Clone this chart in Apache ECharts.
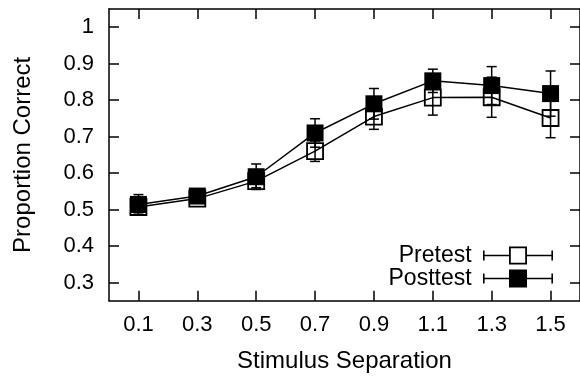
<!DOCTYPE html>
<html>
<head>
<meta charset="utf-8">
<script src="https://cdn.jsdelivr.net/npm/echarts@6/dist/echarts.min.js"></script>
<style>
html,body{margin:0;padding:0;background:#fff;}
#chart{width:580px;height:381px;}
</style>
</head>
<body>
<div id="chart"></div>
<script>
// ---- data ----
const categories = ['0.1', '0.3', '0.5', '0.7', '0.9', '1.1', '1.3', '1.5'];
const pretest = [0.507, 0.530, 0.578, 0.660, 0.755, 0.807, 0.808, 0.751];
const pretestErr = [0.015, 0.012, 0.018, 0.028, 0.035, 0.048, 0.055, 0.054];
const posttest = [0.514, 0.537, 0.590, 0.710, 0.790, 0.853, 0.840, 0.818];
const posttestErr = [0.027, 0.015, 0.035, 0.039, 0.042, 0.032, 0.052, 0.062];
const yTicks = [0.3, 0.4, 0.5, 0.6, 0.7, 0.8, 0.9, 1];
const seriesNames = ['Pretest', 'Posttest'];

const FONT = 'Liberation Sans, Arial, Helvetica, sans-serif';

function errData(vals, errs) {
  return vals.map((v, i) => [i, v - errs[i], v + errs[i]]);
}

function renderErr(params, api) {
  const lo = api.coord([api.value(0), api.value(1)]);
  const hi = api.coord([api.value(0), api.value(2)]);
  const hw = 5;
  const st = { stroke: '#000', lineWidth: 1.5 };
  return {
    type: 'group',
    children: [
      { type: 'line', shape: { x1: lo[0], y1: lo[1], x2: hi[0], y2: hi[1] }, style: st },
      { type: 'line', shape: { x1: lo[0] - hw, y1: lo[1], x2: lo[0] + hw, y2: lo[1] }, style: st },
      { type: 'line', shape: { x1: hi[0] - hw, y1: hi[1], x2: hi[0] + hw, y2: hi[1] }, style: st }
    ]
  };
}

// legend icons: error bar with square (70 x 18 box)
const bar = 'M0,8.2 L26,8.2 L26,9.8 L0,9.8 Z M44,8.2 L70,8.2 L70,9.8 L44,9.8 Z ' +
            'M0,4 L1.6,4 L1.6,14 L0,14 Z M68.4,4 L70,4 L70,14 L68.4,14 Z ';
const openIcon = 'path://' + bar + 'M26,0 L44,0 L44,18 L26,18 Z M27.8,1.8 L27.8,16.2 L42.2,16.2 L42.2,1.8 Z';
const fillIcon = 'path://' + bar + 'M26,8.2 L44,8.2 L44,9.8 L26,9.8 Z M26,0 L44,0 L44,18 L26,18 Z';

const chart = echarts.init(document.getElementById('chart'), null, { renderer: 'canvas' });

const axisLineStyle = { color: '#000', width: 1.5 };

chart.setOption({
  animation: false,
  backgroundColor: '#fff',
  textStyle: { fontFamily: FONT, color: '#000' },
  grid: { left: 109, right: -2, top: 9, bottom: 80.3, containLabel: false },
  legend: {
    orient: 'vertical',
    align: 'right',
    right: 27,
    top: 244,
    padding: 0,
    itemGap: 0,
    itemWidth: 70,
    itemHeight: 18,
    selectedMode: false,
    formatter: name => name + ' ',
    textStyle: { fontFamily: FONT, fontSize: 23, color: '#000' },
    data: [
      { name: seriesNames[0], icon: openIcon, itemStyle: { color: '#000', borderWidth: 0 } },
      { name: seriesNames[1], icon: fillIcon, itemStyle: { color: '#000', borderWidth: 0 } }
    ]
  },
  xAxis: [
    {
      type: 'category',
      data: categories,
      boundaryGap: true,
      position: 'bottom',
      axisLine: { show: true, onZero: false, lineStyle: axisLineStyle },
      axisTick: { show: true, inside: true, length: 10, alignWithLabel: true, lineStyle: axisLineStyle },
      axisLabel: { fontFamily: FONT, fontSize: 22, color: '#000', margin: 13 },
      name: 'Stimulus Separation',
      nameLocation: 'middle',
      nameGap: 49,
      nameTextStyle: { fontFamily: FONT, fontSize: 24, color: '#000' },
      splitLine: { show: false }
    },
    {
      type: 'category',
      data: categories,
      boundaryGap: true,
      position: 'top',
      axisLine: { show: true, onZero: false, lineStyle: axisLineStyle },
      axisTick: { show: true, inside: true, length: 10, alignWithLabel: true, lineStyle: axisLineStyle },
      axisLabel: { show: false },
      splitLine: { show: false }
    }
  ],
  yAxis: [
    {
      type: 'value',
      min: 0.25,
      max: 1.05,
      position: 'left',
      axisLine: { show: true, onZero: false, lineStyle: axisLineStyle },
      axisTick: { show: true, inside: true, length: 10, customValues: yTicks, lineStyle: axisLineStyle },
      axisLabel: { fontFamily: FONT, fontSize: 22, color: '#000', margin: 15, customValues: yTicks,
                   formatter: v => String(Math.round(v * 10) / 10) },
      splitLine: { show: false },
      name: 'Proportion Correct',
      nameLocation: 'middle',
      nameGap: 74,
      nameTextStyle: { fontFamily: FONT, fontSize: 24, color: '#000' }
    },
    {
      type: 'value',
      min: 0.25,
      max: 1.05,
      position: 'right',
      axisLine: { show: true, onZero: false, lineStyle: axisLineStyle },
      axisTick: { show: true, inside: true, length: 10, customValues: yTicks, lineStyle: axisLineStyle },
      axisLabel: { show: false, customValues: yTicks },
      splitLine: { show: false }
    }
  ],
  series: [
    {
      name: seriesNames[0],
      type: 'line',
      data: pretest,
      symbol: 'rect',
      symbolSize: 16,
      showAllSymbol: true,
      z: 2,
      lineStyle: { color: '#000', width: 1.5 },
      itemStyle: { color: 'rgba(0,0,0,0)', borderColor: '#000', borderWidth: 1.8 }
    },
    {
      name: seriesNames[0] + ' error',
      type: 'custom',
      data: errData(pretest, pretestErr),
      renderItem: renderErr,
      encode: { x: 0, y: [1, 2] },
      z: 3
    },
    {
      name: seriesNames[1],
      type: 'line',
      data: posttest,
      symbol: 'rect',
      symbolSize: 17,
      showAllSymbol: true,
      z: 4,
      lineStyle: { color: '#000', width: 1.5 },
      itemStyle: { color: '#000', borderWidth: 0 }
    },
    {
      name: seriesNames[1] + ' error',
      type: 'custom',
      data: errData(posttest, posttestErr),
      renderItem: renderErr,
      encode: { x: 0, y: [1, 2] },
      z: 5
    }
  ]
});
</script>
</body>
</html>
